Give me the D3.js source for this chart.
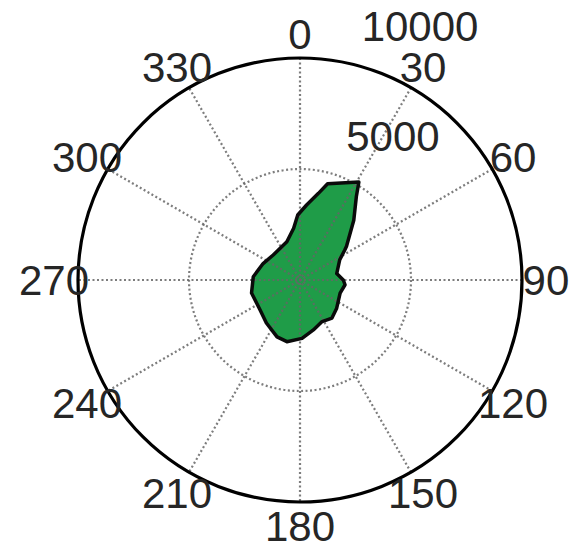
<!DOCTYPE html>
<html>
<head>
<meta charset="utf-8">
<script src="https://cdn.jsdelivr.net/npm/d3@7"></script>
<style>
  body { margin: 0; background: #fff; }
  svg { display: block; }
</style>
</head>
<body>
<svg class="polar"></svg>
<script>
// traced outline of the green rose: direction (deg, clockwise from north) and magnitude
var directions = [16, 31, 34, 42, 54, 56, 63, 80, 90, 96, 108, 128, 140, 152, 165, 178,
                  192, 202, 218, 233, 255, 274, 294, 313, 341, 353, 358, 365, 372];
var magnitudes = [4510, 5150, 4540, 3620, 2590, 2440, 2010, 1680, 1950, 2040, 1900, 2090, 2240, 2120, 2330, 2630,
                  2840, 2760, 2460, 2250, 2260, 2110, 1820, 1650, 1820, 2350, 2930, 3390, 3990];

var angleTicks = [0, 30, 60, 90, 120, 150, 180, 210, 240, 270, 300, 330];
var radialTicks = [5000, 10000];
var rMax = 10000;

var width = 573,
    height = 551,
    cx = 300,
    cy = 280;

var svg = d3.select(".polar").attr("width", width).attr("height", height),
    g = svg.append("g").attr("transform", "translate(" + cx + "," + cy + ")");

var r = d3.scaleLinear()
    .domain([0, rMax])
    .range([0, 222]);

var rad = function(deg) { return deg * Math.PI / 180; };
var px = function(deg, v) { return r(v) * Math.sin(rad(deg)); };
var py = function(deg, v) { return -r(v) * Math.cos(rad(deg)); };

var data = directions.map(function(d, i) { return {a: d, v: magnitudes[i]}; });

var rose = d3.lineRadial()
    .angle(function(d) { return rad(d.a); })
    .radius(function(d) { return r(d.v); })
    .curve(d3.curveLinearClosed);

// fill first, grid over it, outline last
g.append("path")
    .attr("d", rose(data))
    .attr("fill", "#1f9c48")
    .attr("stroke", "none");

var grid = g.append("g")
    .attr("fill", "none")
    .attr("stroke", "#666")
    .attr("stroke-opacity", 0.85)
    .attr("stroke-width", 2.2)
    .attr("stroke-dasharray", "2,2.5");

grid.selectAll("line")
    .data(angleTicks.filter(function(d) { return d < 180; }))
    .enter().append("line")
        .attr("x1", function(d) { return px(d, rMax); })
        .attr("y1", function(d) { return py(d, rMax); })
        .attr("x2", function(d) { return px(d + 180, rMax); })
        .attr("y2", function(d) { return py(d + 180, rMax); });

grid.selectAll("circle")
    .data(radialTicks.slice(0, -1))
    .enter().append("circle")
        .attr("r", function(d) { return r(d); });

g.append("path")
    .attr("d", rose(data))
    .attr("fill", "none")
    .attr("stroke", "#0a0a0a")
    .attr("stroke-width", 3.5)
    .attr("stroke-linejoin", "round");

g.append("circle")
    .attr("r", r(rMax))
    .attr("fill", "none")
    .attr("stroke", "#000")
    .attr("stroke-width", 3.2);

var labels = g.append("g")
    .attr("font-family", "'Liberation Sans', Arial, sans-serif")
    .attr("font-size", 42)
    .attr("fill", "#262626");

labels.selectAll(".angle")
    .data(angleTicks)
    .enter().append("text")
        .attr("class", "angle")
        .attr("x", function(d) { return px(d, rMax * 1.108); })
        .attr("y", function(d) { return py(d, rMax * 1.108); })
        .attr("dy", "0.36em")
        .attr("text-anchor", "middle")
        .text(function(d) { return d; });

labels.selectAll(".radial")
    .data(radialTicks)
    .enter().append("text")
        .attr("class", "radial")
        .attr("x", function(d) { return px(8, d + rMax / 40) + 30; })
        .attr("y", function(d) { return py(8, d + rMax / 40) - 14; })
        .attr("text-anchor", "start")
        .text(function(d) { return d; });
</script>
</body>
</html>
